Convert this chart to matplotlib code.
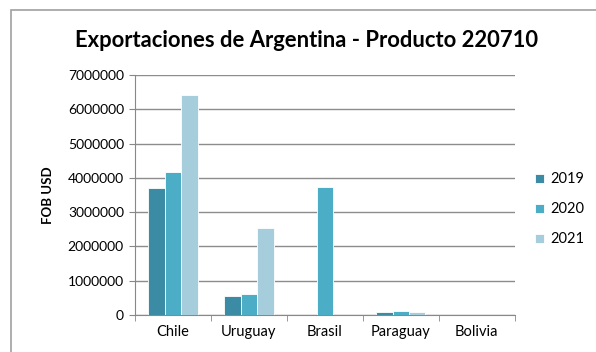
import matplotlib.pyplot as plt
from matplotlib.patches import Rectangle
import numpy as np

plt.rcParams['font.family'] = ['Lato', 'DejaVu Sans']

paises = ["Chile", "Uruguay", "Brasil", "Paraguay", "Bolivia"]
anios = ["2019", "2020", "2021"]
fob_2019 = [3710000, 560000, 0, 80000, 0]
fob_2020 = [4170000, 600000, 3740000, 120000, 0]
fob_2021 = [6430000, 2550000, 0, 80000, 0]
colores = ["#3a8ba3", "#4badc6", "#a6cddc"]

fig = plt.figure(figsize=(5.96, 3.52), dpi=100)
ax = fig.add_axes([0.2265, 0.105, 0.637, 0.682])

# marco gris del grafico
fig.patches.append(Rectangle((11 / 596, -0.1), 1.2, 1 - 10 / 352 + 0.1,
                             transform=fig.transFigure, fill=False,
                             edgecolor="#a0a0a0", linewidth=1.2))

x = np.arange(len(paises))
ancho = 0.217
for k, (serie, anio) in enumerate(zip([fob_2019, fob_2020, fob_2021], anios)):
    ax.bar(x + (k - 1) * ancho, serie, ancho, color=colores[k],
           edgecolor="white", linewidth=0.6, label=anio, zorder=3)

ax.set_xlim(-0.5, len(paises) - 0.5)
ax.set_ylim(0, 7000000)
ax.set_yticks(np.arange(0, 7000001, 1000000))
ax.set_yticklabels([str(v) for v in range(0, 7000001, 1000000)], fontsize=10)
ax.set_xticks(x)
ax.set_xticklabels(paises, fontsize=10.5)
ax.set_xticks(np.arange(-0.5, len(paises)), minor=True)
ax.tick_params(axis="x", which="major", length=0, pad=7)
ax.tick_params(axis="x", which="minor", length=4, color="#888888")
ax.tick_params(axis="y", length=4, color="#888888", pad=4)

ax.grid(axis="y", color="#8c8c8c", linewidth=1.0, zorder=0)
for lado in ["top", "right"]:
    ax.spines[lado].set_visible(False)
for lado in ["left", "bottom"]:
    ax.spines[lado].set_color("#888888")

ax.set_ylabel("FOB USD", fontsize=9.5, fontweight="bold", labelpad=10)
fig.text(0.514, 0.885, "Exportaciones de Argentina - Producto 220710",
         ha="center", va="center", fontsize=15.8, fontweight="bold")

ax.legend(loc="center left", bbox_to_anchor=(1.02, 0.44), frameon=False,
          fontsize=10.5, handlelength=0.6, handleheight=0.6,
          labelspacing=1.1, handletextpad=0.4)

fig.savefig("out.png", dpi=100)
